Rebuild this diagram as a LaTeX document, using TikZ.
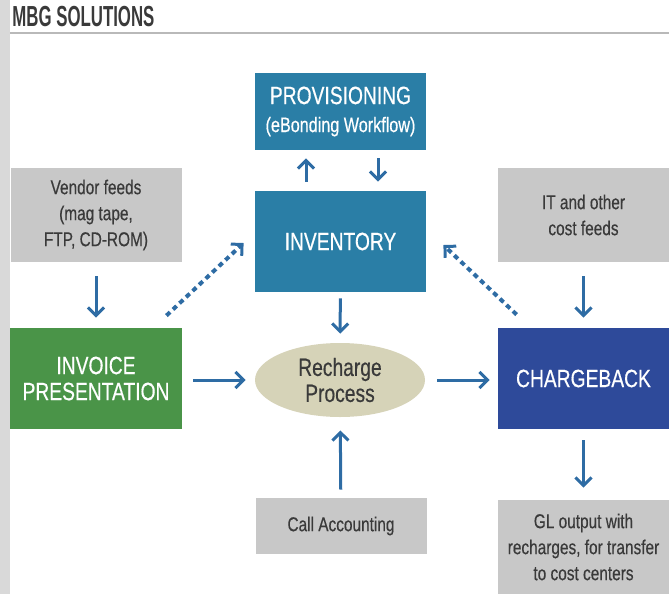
\documentclass[tikz,border=0pt]{standalone}
\usepackage{fontspec}
\setmainfont{Liberation Sans}[FakeStretch=0.77,FakeBold=0.4]
\newfontfamily\headfont{Liberation Sans}[FakeStretch=0.58]
\usetikzlibrary{arrows.meta,shapes.geometric}

\definecolor{boxblue}{RGB}{42,126,166}
\definecolor{boxgreen}{RGB}{74,148,72}
\definecolor{boxnavy}{RGB}{46,74,154}
\definecolor{boxgray}{RGB}{200,200,200}
\definecolor{boxkhaki}{RGB}{214,211,184}
\definecolor{arrowblue}{RGB}{46,108,164}
\definecolor{textgray}{RGB}{58,58,58}

\begin{document}
\begin{tikzpicture}[x=0.5pt,y=-0.5pt,
        mainbox/.style={fill=#1,text=white,align=center,inner sep=0pt,
            minimum width=85.5pt,font=\fontsize{12.5}{13}\selectfont},
        feedbox/.style={fill=boxgray,text=textgray,align=center,inner sep=0pt,
            minimum width=85.5pt,font=\fontsize{10}{13}\selectfont},
        arr/.style={draw=arrowblue,line width=1.5pt,
            -{Straight Barb[length=4pt,width=8pt,line width=1.5pt]}},
        dotarr/.style={arr,dash pattern=on 2.5pt off 2pt,line width=2pt}]
        \useasboundingbox (0,0) rectangle (669,594);
        \fill[gray!30] (0,0) rectangle (10,594);
        \node[anchor=west,inner sep=0pt,text=textgray] (title) at (12,17)
            {\headfont\bfseries\fontsize{14.5}{14.5}\selectfont MBG SOLUTIONS};
        \draw[gray!55,line width=1pt] (10,33) -- (669,33);

        \node[mainbox=boxblue,minimum height=38.5pt] (prov) at (340.5,111.5)
            {PROVISIONING\\[1pt]{\fontsize{10.5}{12}\selectfont (eBonding Workflow)}};
        \node[mainbox=boxblue,minimum height=50.5pt] (inv) at (340.5,241.5) {INVENTORY};
        \node[feedbox,minimum height=47pt] (vendor) at (96,215)
            {Vendor feeds\\(mag tape,\\FTP, CD-ROM)};
        \node[feedbox,minimum height=47pt] (itfeeds) at (583.5,215)
            {IT and other\\cost feeds};
        \node[mainbox=boxgreen,minimum width=86pt,minimum height=50.5pt] (invoice) at (96,378.5)
            {INVOICE\\PRESENTATION};
        \node[mainbox=boxnavy,minimum height=50.5pt] (charge) at (583.5,378.5) {CHARGEBACK};
        \node[ellipse,fill=boxkhaki,text=textgray,align=center,inner sep=0pt,
            minimum width=85pt,minimum height=37pt,font=\fontsize{12.5}{13}\selectfont]
            (recharge) at (340,380) {Recharge\\Process};
        \node[feedbox,minimum height=28pt] (call) at (341,526) {Call Accounting};
        \node[feedbox,minimum height=47pt] (gl) at (583.5,547)
            {GL output with\\recharges, for transfer\\to cost centers};

        \draw[arr,shorten <=4.5pt,shorten >=4pt] ([xshift=-17.25pt]inv.north) -- ([xshift=-17.25pt]prov.south);
        \draw[arr,shorten <=4pt,shorten >=4.5pt] ([xshift=18.75pt]prov.south) -- ([xshift=18.75pt]inv.north);
        \draw[arr,shorten <=3pt,shorten >=4.5pt] (inv) -- (recharge);
        \draw[arr,shorten <=7pt,shorten >=5pt] (vendor) -- (invoice);
        \draw[arr,shorten <=7pt,shorten >=5pt] (itfeeds) -- (charge);
        \draw[arr,shorten <=5.5pt,shorten >=4.5pt] (invoice.east |- recharge) -- (recharge.west);
        \draw[arr,shorten <=6pt,shorten >=4pt] (recharge.east) -- (charge.west |- recharge);
        \draw[arr,shorten <=4pt,shorten >=6.5pt] (call) -- (recharge);
        \draw[arr,shorten <=5.5pt,shorten >=6pt] (charge) -- (gl);
        \draw[dotarr] ([xshift=-8pt,yshift=6pt]invoice.north east) -- ([xshift=-5.5pt,yshift=-0.75pt]inv.west);
        \draw[dotarr] ([xshift=9.5pt,yshift=6.5pt]charge.north west) -- ([xshift=8.5pt,yshift=-1.75pt]inv.east);
    \end{tikzpicture}
\end{document}
